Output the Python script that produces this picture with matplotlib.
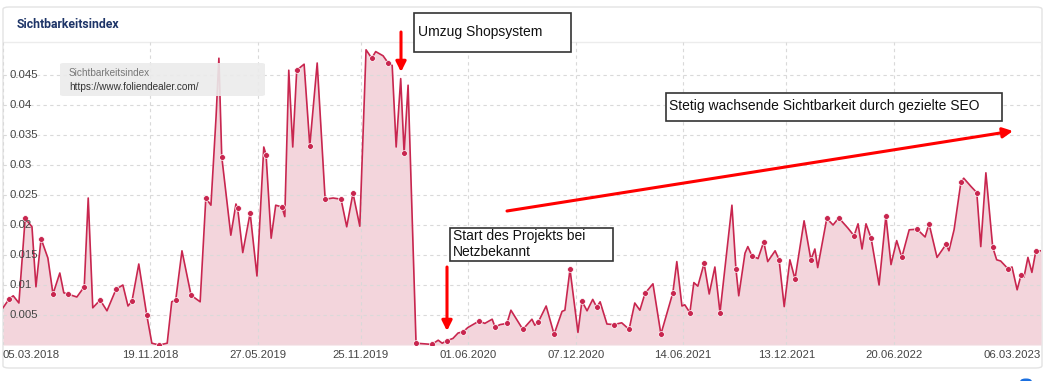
import matplotlib
matplotlib.use("Agg")
import matplotlib.pyplot as plt
from matplotlib.patches import Rectangle, FancyBboxPatch, FancyArrowPatch, Circle
import numpy as np
import pandas as pd

plt.rcParams['font.family'] = ['Liberation Sans', 'DejaVu Sans']

# Sichtbarkeitsindex foliendealer.com
start = "2018-03-05"
days = [0, 11, 18, 28, 39, 51, 58, 67, 79, 88,
        100, 107, 114, 130, 143, 150, 158, 171, 183, 199,
        211, 220, 227, 239, 253, 262, 275, 289, 297, 304,
        315, 331, 347, 357, 366, 375, 380, 385, 401, 410,
        413, 422, 435, 447, 459, 463, 472, 480, 491, 496,
        503, 510, 517, 530, 540, 553, 567, 581, 595, 605,
        616, 628, 639, 649, 656, 669, 678, 685, 692, 700,
        706, 713, 727, 755, 766, 773, 781, 792, 801, 810,
        818, 838, 848, 861, 866, 875, 887, 894, 915, 931,
        936, 942, 956, 970, 984, 989, 998, 1012, 1019, 1028,
        1038, 1045, 1051, 1063, 1075, 1089, 1102, 1112, 1121, 1130,
        1144, 1158, 1179, 1186, 1195, 1200, 1209, 1216, 1223, 1234,
        1243, 1253, 1262, 1283, 1290, 1295, 1306, 1311, 1318, 1329,
        1339, 1346, 1359, 1366, 1375, 1385, 1394, 1410, 1422, 1429,
        1434, 1450, 1461, 1471, 1487, 1498, 1505, 1512, 1519, 1528,
        1542, 1554, 1563, 1573, 1582, 1595, 1609, 1623, 1630, 1644,
        1660, 1665, 1674, 1686, 1691, 1704, 1714, 1721, 1730, 1742,
        1749, 1756, 1769, 1776, 1785, 1792, 1797, 1804, 1811, 1818,
        1827]
values = [0.0062, 0.0077, 0.0082, 0.0070, 0.0211, 0.0197, 0.0097, 0.0177, 0.0145, 0.0085,
          0.0120, 0.0087, 0.0085, 0.0080, 0.0097, 0.0245, 0.0062, 0.0075, 0.0057, 0.0093,
          0.0100, 0.0065, 0.0073, 0.0135, 0.0050, 0.0003, 0.0000, 0.0003, 0.0072, 0.0075,
          0.0157, 0.0083, 0.0072, 0.0245, 0.0233, 0.0380, 0.0478, 0.0314, 0.0183, 0.0235,
          0.0228, 0.0154, 0.0220, 0.0115, 0.0330, 0.0317, 0.0178, 0.0233, 0.0230, 0.0214,
          0.0458, 0.0330, 0.0458, 0.0468, 0.0332, 0.0470, 0.0243, 0.0245, 0.0243, 0.0197,
          0.0253, 0.0198, 0.0492, 0.0478, 0.0489, 0.0482, 0.0470, 0.0466, 0.0330, 0.0444,
          0.0320, 0.0433, 0.0003, 0.0001, 0.0008, 0.0003, 0.0007, 0.0011, 0.0020, 0.0022,
          0.0029, 0.0040, 0.0036, 0.0043, 0.0030, 0.0034, 0.0036, 0.0058, 0.0026, 0.0043,
          0.0033, 0.0038, 0.0065, 0.0018, 0.0056, 0.0058, 0.0126, 0.0021, 0.0073, 0.0057,
          0.0076, 0.0063, 0.0072, 0.0035, 0.0034, 0.0037, 0.0026, 0.0070, 0.0058, 0.0086,
          0.0102, 0.0018, 0.0087, 0.0139, 0.0065, 0.0067, 0.0054, 0.0104, 0.0098, 0.0136,
          0.0085, 0.0130, 0.0054, 0.0233, 0.0127, 0.0082, 0.0153, 0.0164, 0.0149, 0.0144,
          0.0172, 0.0139, 0.0157, 0.0142, 0.0064, 0.0142, 0.0110, 0.0207, 0.0142, 0.0160,
          0.0129, 0.0211, 0.0200, 0.0212, 0.0195, 0.0182, 0.0202, 0.0160, 0.0202, 0.0178,
          0.0100, 0.0215, 0.0134, 0.0174, 0.0146, 0.0192, 0.0193, 0.0180, 0.0202, 0.0146,
          0.0168, 0.0157, 0.0192, 0.0271, 0.0278, 0.0264, 0.0254, 0.0164, 0.0287, 0.0163,
          0.0142, 0.0140, 0.0127, 0.0130, 0.0092, 0.0117, 0.0113, 0.0146, 0.0121, 0.0157,
          0.0157]
# points that carry a dot marker
dot_days = [11, 39, 67, 88, 114, 143, 171, 199, 227, 253, 275, 304, 331, 357, 385,
            413, 435, 463, 491, 517, 540, 567, 595, 616, 649, 678, 706, 727, 755, 781,
            810, 838, 866, 887, 915, 942, 970, 998, 1019, 1045, 1075, 1102, 1130, 1158,
            1179, 1209, 1234, 1262, 1290, 1318, 1339, 1366, 1394, 1422, 1450, 1471, 1498,
            1528, 1554, 1582, 1609, 1630, 1660, 1686, 1714, 1742, 1769, 1792, 1818]
tick_dates = ["2018-03-05", "2018-11-19", "2019-05-27", "2019-11-25", "2020-06-01",
              "2020-12-07", "2021-06-14", "2021-12-13", "2022-06-20", "2023-03-06"]
tick_labels = ["05.03.2018", "19.11.2018", "27.05.2019", "25.11.2019", "01.06.2020",
               "07.12.2020", "14.06.2021", "13.12.2021", "20.06.2022", "06.03.2023"]
y_ticks = [0.005, 0.01, 0.015, 0.02, 0.025, 0.03, 0.035, 0.04, 0.045]

assert len(days) == len(values)

W, H = 1045, 381
LINE = '#c8264f'
FILL = '#f3d5dc'


def fx(x):
    return x / W


def fy(y):
    return 1 - y / H


fig = plt.figure(figsize=(W / 100, H / 100), dpi=100)

# card behind everything
card = FancyBboxPatch((fx(3), fy(368)), fx(1042) - fx(3), fy(7) - fy(368),
                      boxstyle="round,pad=0,rounding_size=0.006",
                      transform=fig.transFigure, fc='white', ec='#e3e3e3', lw=1, zorder=-2)
fig.add_artist(card)
fig.add_artist(plt.Line2D([fx(4), fx(1041)], [fy(42), fy(42)], transform=fig.transFigure,
                          color='#ececec', lw=1, zorder=-1))
fig.text(fx(17), fy(24), "Sichtbarkeitsindex", family=['Roboto', 'DejaVu Sans'],
         fontweight='bold', fontsize=8.8, color='#1e3568', va='center', ha='left')

# the plot itself
ax = fig.add_axes([fx(3), fy(345), (1041 - 3) / W, (345 - 42) / H])
ax.set_facecolor('none')
dates = pd.Timestamp(start) + pd.to_timedelta(days, unit='D')
vals = np.array(values)
ax.fill_between(dates, vals, color=FILL, lw=0, zorder=1)
ax.plot(dates, vals, color=LINE, lw=1.2, zorder=3)
mask = np.isin(days, dot_days)
ax.plot(dates[mask], vals[mask], 'o', ms=4.2, color=LINE, mec='white', mew=0.5, zorder=4)

ax.set_xlim(dates[0], dates[-1])
ax.set_ylim(0, 303 / 6000)
ax.set_yticks(y_ticks)
ax.set_xticks(pd.to_datetime(tick_dates))
ax.grid(color='#d9d9d9', ls=(0, (3, 3)), lw=0.8, zorder=0)
ax.tick_params(length=0, labelleft=False, labelbottom=False)
for s in ax.spines.values():
    s.set_visible(False)
ax.axhline(0, color='#e6e6e6', lw=1, zorder=2)

for v in y_ticks:
    ax.text(0.0065, v, f"{v:g}", transform=ax.get_yaxis_transform(), fontsize=8.2,
            color='#444444', va='center', ha='left', zorder=5)

for i, (d, lab) in enumerate(zip(pd.to_datetime(tick_dates), tick_labels)):
    ha = 'left' if i == 0 else ('right' if i == len(tick_labels) - 1 else 'center')
    ax.text(d, -10 / 303, lab, transform=ax.get_xaxis_transform(), fontsize=8.2,
            color='#444444', ha=ha, va='center', clip_on=False)

# legend-ish label box
lg = FancyBboxPatch((fx(60), fy(96)), fx(265) - fx(60), fy(63) - fy(96),
                    boxstyle="round,pad=0,rounding_size=0.004", transform=fig.transFigure,
                    fc='#ebebeb', ec='none', alpha=0.9, zorder=6)
fig.add_artist(lg)
fig.text(fx(69), fy(73), "Sichtbarkeitsindex", fontsize=7.2, color='#777777',
         va='center', zorder=7)
fig.text(fx(69), fy(86.5), "https://www.foliendealer.com/", fontsize=7.2, color='#333333',
         va='center', zorder=7)

# annotation boxes
boxes = [((414, 13, 571, 52), (418, 32), "Umzug Shopsystem"),
         ((450, 228, 613, 261), (453, 244), "Start des Projekts bei\nNetzbekannt"),
         ((666, 93, 1002, 121), (669, 106), "Stetig wachsende Sichtbarkeit durch gezielte SEO")]
for (x0, y0, x1, y1), (tx, ty), txt in boxes:
    fig.add_artist(Rectangle((fx(x0), fy(y1)), fx(x1) - fx(x0), fy(y0) - fy(y1),
                             transform=fig.transFigure, fc='white', ec='#333333',
                             lw=1.2, zorder=8))
    fig.text(fx(tx), fy(ty), txt, fontsize=10, color='#111111', va='center', ha='left',
             linespacing=1.15, zorder=9)

# red arrows
arrows = [((401, 32), (401, 72)),
          ((447, 267), (447, 331)),
          ((507, 211), (1013, 131))]
for (xa, ya), (xb, yb) in arrows:
    fig.add_artist(FancyArrowPatch((fx(xa), fy(ya)), (fx(xb), fy(yb)),
                                   transform=fig.transFigure, arrowstyle='-|>',
                                   mutation_scale=15, color='#ff0000', lw=2.2,
                                   shrinkA=0, shrinkB=0, zorder=10))

# little blue dot peeking in at the bottom right
fig.add_artist(Circle((fx(1026), fy(381)), 5 / W, transform=fig.transFigure,
                      color='#1a6fe0', zorder=5))

fig.savefig("out.png", dpi=100)
